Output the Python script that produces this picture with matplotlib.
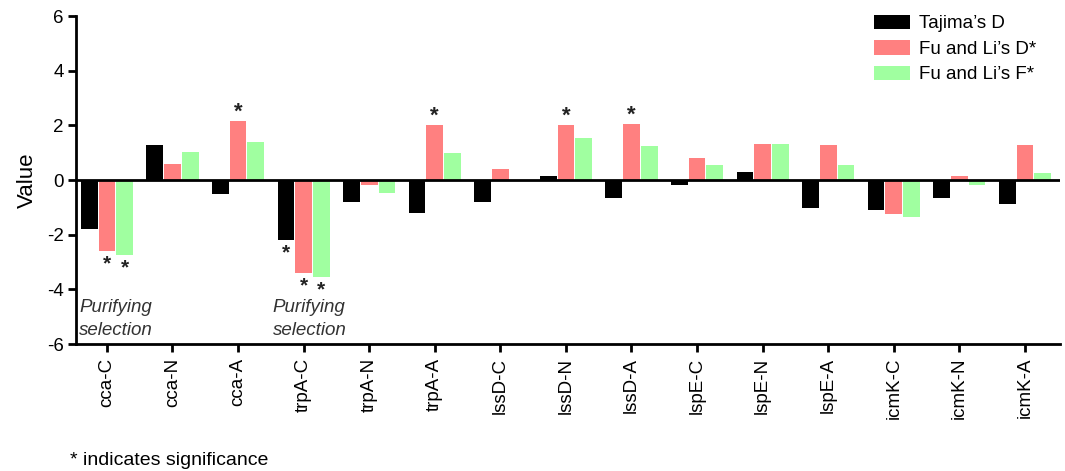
import numpy as np
import matplotlib
matplotlib.use('Agg')
import matplotlib.pyplot as plt

plt.rcParams['font.family'] = ['Liberation Sans', 'DejaVu Sans']
plt.rcParams['axes.unicode_minus'] = False

genes = ['cca-C', 'cca-N', 'cca-A', 'trpA-C', 'trpA-N', 'trpA-A', 'lssD-C', 'lssD-N',
         'lssD-A', 'lspE-C', 'lspE-N', 'lspE-A', 'icmK-C', 'icmK-N', 'icmK-A']
tajima_d = [-1.79, 1.28, -0.50, -2.20, -0.80, -1.20, -0.80, 0.15,
            -0.65, -0.20, 0.29, -1.01, -1.10, -0.65, -0.87]
fuli_d = [-2.59, 0.59, 2.16, -3.39, -0.18, 2.01, 0.40, 2.01,
          2.05, 0.80, 1.32, 1.28, -1.24, 0.15, 1.28]
fuli_f = [-2.74, 1.02, 1.39, -3.55, -0.46, 0.99, 0.0, 1.54,
          1.24, 0.55, 1.32, 0.55, -1.35, -0.18, 0.25]
series_names = ['Tajima\u2019s D', 'Fu and Li\u2019s D*', 'Fu and Li\u2019s F*']
colors = ['#000000', '#FF8080', '#A0FFA0']

# (gene index, series index) pairs that are significant
significant = [(0, 1), (0, 2), (2, 1), (3, 0), (3, 1), (3, 2), (5, 1), (7, 1), (8, 1)]

fig = plt.figure(figsize=(10.65, 4.71), dpi=100)
ax = fig.add_axes([0.0714, 0.2696, 0.9236, 0.6964])

x = np.arange(len(genes))
offsets = [-0.27, 0.0, 0.27]
width = 0.255
all_series = [tajima_d, fuli_d, fuli_f]
for vals, off, col, name in zip(all_series, offsets, colors, series_names):
	ax.bar(x + off, vals, width, color=col, label=name, zorder=2)

for gi, si in significant:
	v = all_series[si][gi]
	if v >= 0:
		ax.annotate('*', (x[gi] + offsets[si], v), xytext=(0, -1), textcoords='offset points',
		            ha='center', va='bottom', fontsize=16, fontweight='bold', color='#222222')
	else:
		ax.annotate('*', (x[gi] + offsets[si], v), xytext=(0, -2.5), textcoords='offset points',
		            ha='center', va='top', fontsize=15, fontweight='bold', color='#222222')

ax.axhline(0, color='black', linewidth=2, zorder=3)

ax.set_xlim(-0.47, 14.53)
ax.set_ylim(-6, 6)
ax.set_yticks([-6, -4, -2, 0, 2, 4, 6])
ax.set_xticks(x)
ax.set_xticklabels(genes, rotation=90)
ax.tick_params(axis='both', labelsize=13.5, width=2, length=6, color='black')
ax.tick_params(axis='y', pad=3)
ax.tick_params(axis='x', pad=4)
for s in ['top', 'right']:
	ax.spines[s].set_visible(False)
for s in ['left', 'bottom']:
	ax.spines[s].set_linewidth(2)
ax.set_ylabel('Value', fontsize=16, labelpad=6)

ax.text(-0.42, -5.08, 'Purifying\nselection', fontsize=13.5, style='italic', color='#333333',
        va='center', ha='left', linespacing=1.45)
ax.text(2.53, -5.08, 'Purifying\nselection', fontsize=13.5, style='italic', color='#333333',
        va='center', ha='left', linespacing=1.45)

ax.legend(loc='upper right', frameon=False, fontsize=13.5, handlelength=1.9, handleheight=0.8,
          handletextpad=0.5, labelspacing=0.42, borderaxespad=0, bbox_to_anchor=(0.984, 1.027))

fig.text(0.066, 0.005, '* indicates significance', fontsize=14, ha='left', va='bottom')

fig.savefig('out.png', dpi=100)
